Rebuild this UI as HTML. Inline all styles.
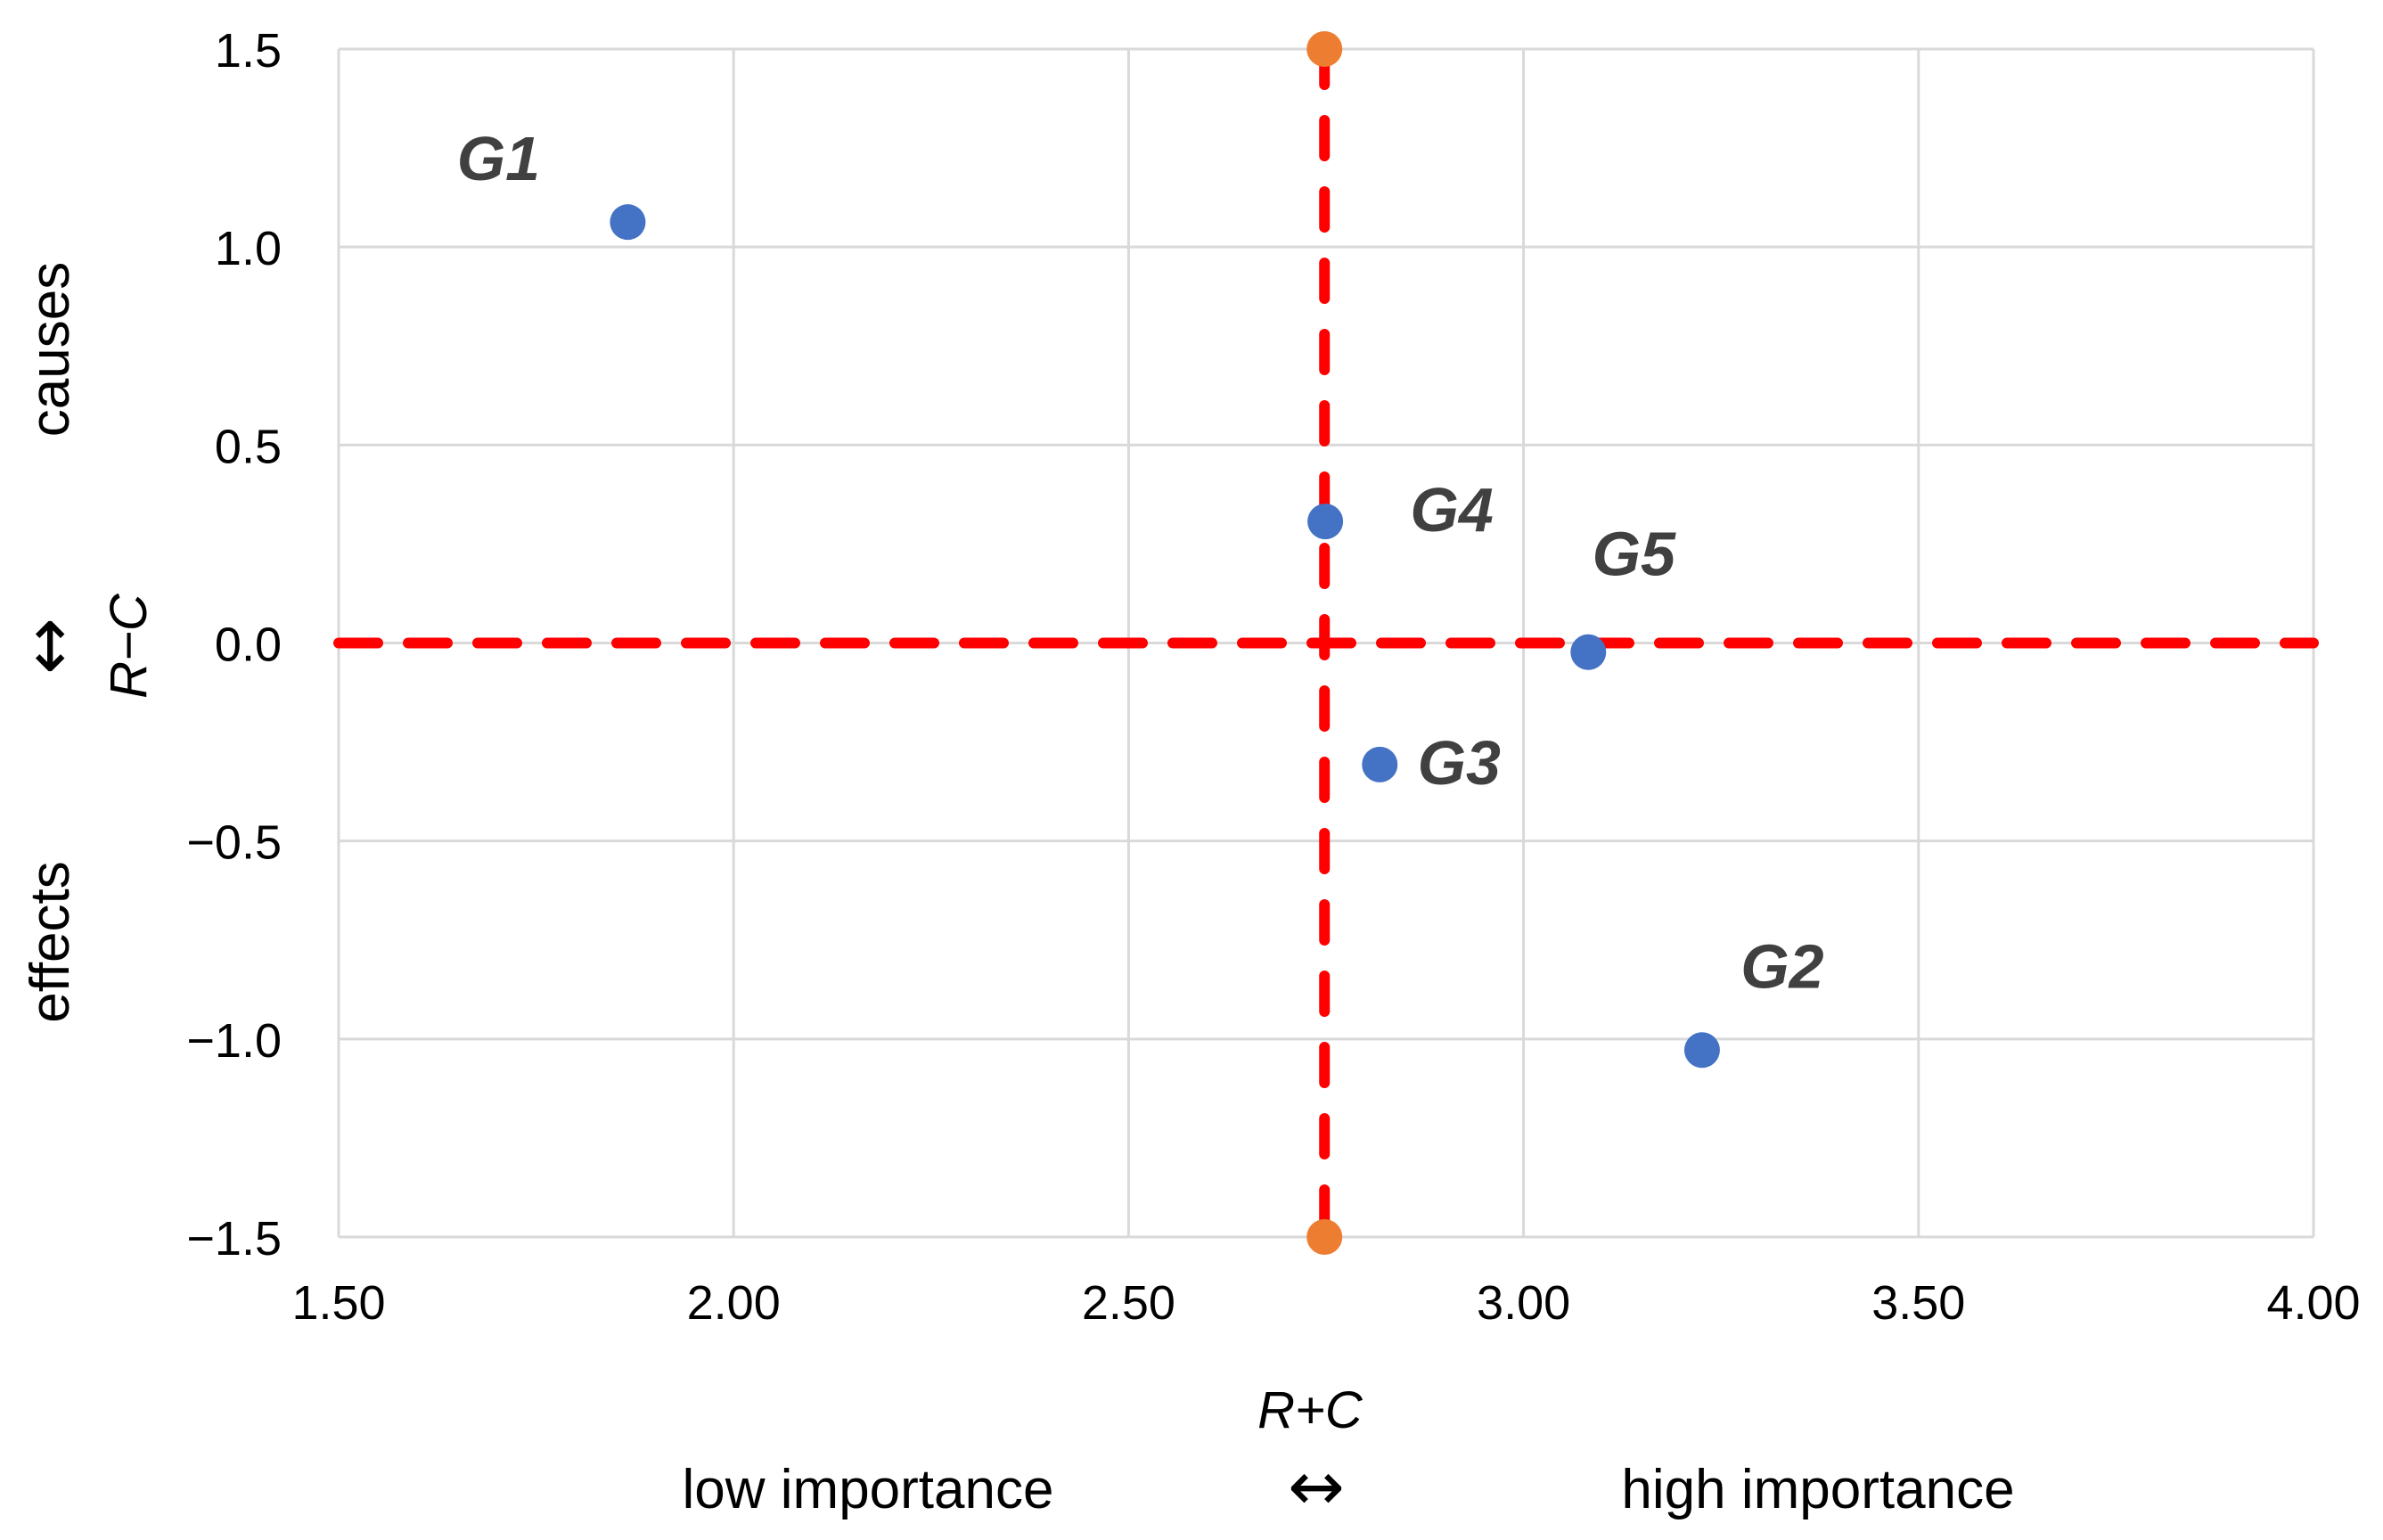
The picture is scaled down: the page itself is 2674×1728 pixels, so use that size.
<!DOCTYPE html>
<html><head><meta charset="utf-8"><style>
html,body{margin:0;padding:0;background:#fff;}
svg{display:block;}
text{font-family:"Liberation Sans",sans-serif;}
.arr{font-family:"DejaVu Sans",sans-serif;}
</style></head><body>
<svg id="chart" width="2674" height="1728" viewBox="0 0 2674 1728" xmlns="http://www.w3.org/2000/svg">
<g id="grid"></g>
<g id="ticks"></g>
<g id="refs"></g>
<g id="marks"></g>
<text x="1470" y="1602" font-size="58" font-style="italic" text-anchor="middle" fill="#000">R+C</text>
<text x="974" y="1692" font-size="62" text-anchor="middle" fill="#000">low importance</text>
<text class="arr" x="1477" y="1694" font-size="76" text-anchor="middle" fill="#000">↔</text>
<text x="2040" y="1692" font-size="62" text-anchor="middle" fill="#000">high importance</text>
<text transform="translate(77,392) rotate(-90)" font-size="62" text-anchor="middle" fill="#000">causes</text>
<text class="arr" transform="translate(80,725) rotate(-90)" font-size="76" text-anchor="middle" fill="#000">↔</text>
<text transform="translate(164,725) rotate(-90)" font-size="58" font-style="italic" text-anchor="middle" fill="#000">R−C</text>
<text transform="translate(77,1057) rotate(-90)" font-size="62" text-anchor="middle" fill="#000">effects</text>
</svg>
<script>
const labels = ["G1","G2","G3","G4","G5"];
const xValues = [1.866, 3.226, 2.818, 2.749, 3.082];
const yValues = [1.063, -1.028, -0.307, 0.307, -0.023];
const xTicks = [1.5, 2.0, 2.5, 3.0, 3.5, 4.0];
const xTickLabels = ["1.50","2.00","2.50","3.00","3.50","4.00"];
const yTicks = [1.5, 1.0, 0.5, 0.0, -0.5, -1.0, -1.5];
const yTickLabels = ["1.5","1.0","0.5","0.0","−0.5","−1.0","−1.5"];
const meanX = 2.748;
const refY = 0;
const endpointsY = [1.5, -1.5];

const NS = "http://www.w3.org/2000/svg";
const L = 380, R = 2596, T = 55, B = 1388;
const xMin = 1.5, xMax = 4.0, yMin = -1.5, yMax = 1.5;
const sx = v => L + (v - xMin) / (xMax - xMin) * (R - L);
const sy = v => B - (v - yMin) / (yMax - yMin) * (B - T);
function mk(tag, parent, attrs){
  const e = document.createElementNS(NS, tag);
  for (const k in attrs) e.setAttribute(k, attrs[k]);
  parent.appendChild(e); return e;
}
const grid = document.getElementById('grid');
const ticks = document.getElementById('ticks');
const refs = document.getElementById('refs');
const marks = document.getElementById('marks');
xTicks.forEach((t,i)=>{
  const g = mk('line', grid, {x1:sx(t),x2:sx(t),y1:T,y2:B,stroke:'#d9d9d9','stroke-width':3});
  
  
  const tx = mk('text', ticks, {x:sx(t), y:B+92, 'font-size':54, 'text-anchor':'middle', fill:'#000'});
  
  
  tx.textContent = xTickLabels[i];
});
yTicks.forEach((t,i)=>{
  const g = mk('line', grid, {x1:L,x2:R,y1:sy(t),y2:sy(t),stroke:'#d9d9d9','stroke-width':3});
  
  
  const tx = mk('text', ticks, {x:316, y:sy(t)+20, 'font-size':54, 'text-anchor':'end', fill:'#000'});
  
  
  tx.textContent = yTickLabels[i];
});
const hl = mk('line', refs, {x1:L,x2:R,y1:sy(refY),y2:sy(refY),stroke:'#ff0000','stroke-width':12,'stroke-dasharray':'44 34','stroke-linecap':'round'});


const vl = mk('line', refs, {x1:sx(meanX),x2:sx(meanX),y1:sy(endpointsY[0]),y2:sy(endpointsY[1]),stroke:'#ff0000','stroke-width':12,'stroke-dasharray':'40 40','stroke-linecap':'round'});


endpointsY.forEach(v=>{
  const c = mk('circle', marks, {cx:sx(meanX), cy:sy(v), r:20, fill:'#ed7d31'});
  
  
});
const offX = [-145, 90, 89, 142, 51];
const offY = [-72, -95, -3, -14, -111];
labels.forEach((lb,i)=>{
  const c = mk('circle', marks, {cx:sx(xValues[i]), cy:sy(yValues[i]), r:20, fill:'#4472c4'});
  
  
  const t = mk('text', marks, {x:sx(xValues[i])+offX[i], y:sy(yValues[i])+offY[i]+25, 'font-size':70, 'font-weight':'bold', 'font-style':'italic', 'text-anchor':'middle', fill:'#404040'});
  
  
  t.textContent = lb;
});
</script>
</body></html>
